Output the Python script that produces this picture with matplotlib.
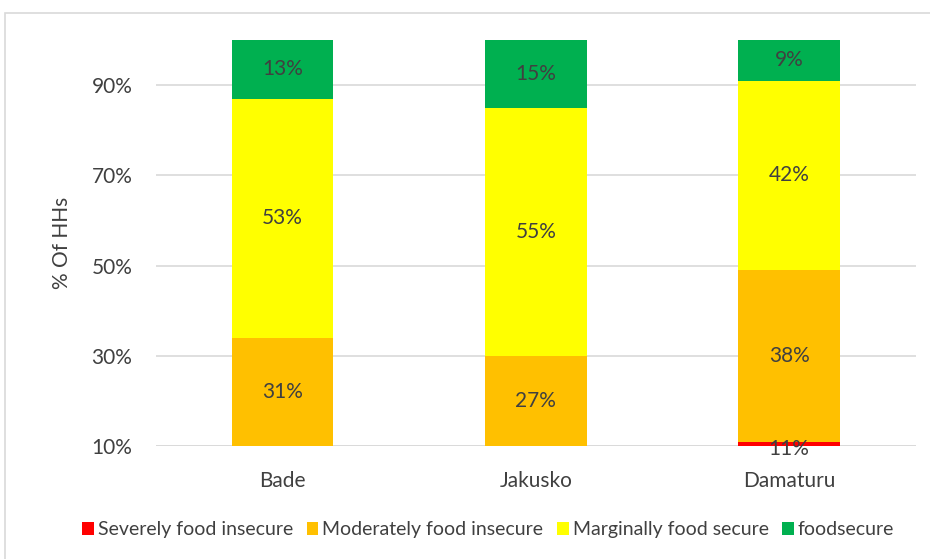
import matplotlib.pyplot as plt
from matplotlib.patches import Rectangle

# data
districts = ["Bade", "Jakusko", "Damaturu"]
severe = [3, 3, 11]
moderate = [31, 27, 38]
marginal = [53, 55, 42]
secure = [13, 15, 9]

series_names = ["Severely food insecure", "Moderately food insecure",
                "Marginally food secure", "foodsecure"]
colores = ["#FF0000", "#FFC000", "#FFFF00", "#00B050"]
yticks = [10, 30, 50, 70, 90]

txt = "#404040"
plt.rcParams['font.family'] = ['Lato', 'DejaVu Sans']

fig = plt.figure(figsize=(9.3, 5.59), dpi=100)
ax = fig.add_axes([0.1677, 0.2021, 0.817, 0.7263])

# chart border
fig.patches.append(Rectangle((5 / 930, -0.1), 1.2, 1 - 13 / 559 + 0.1,
                             transform=fig.transFigure, fill=False,
                             edgecolor="#D9D9D9", linewidth=1.2))

ymin, ymax = 10, 100
x = range(len(districts))
base = [0, 0, 0]
for serie, nome, cor in zip([severe, moderate, marginal, secure], series_names, colores):
    ax.bar(x, serie, bottom=base, width=0.4, color=cor, label=nome, zorder=2)
    for i in x:
        lo = max(base[i], ymin)
        hi = min(base[i] + serie[i], ymax)
        if hi > lo:
            if hi - lo < 3:
                ax.text(i, lo - 0.6, f"{serie[i]}%", ha="center", va="center",
                        fontsize=15, color=txt, clip_on=False, zorder=3)
            else:
                ax.text(i, (lo + hi) / 2, f"{serie[i]}%", ha="center", va="center",
                        fontsize=15, color=txt, zorder=3)
    base = [b + s for b, s in zip(base, serie)]

ax.set_ylim(ymin, ymax)
ax.set_xlim(-0.5, 2.5)
ax.set_yticks(yticks)
ax.set_yticklabels([f"{t}%" for t in yticks])
ax.set_xticks(list(x))
ax.set_xticklabels(districts)
ax.yaxis.grid(True, color="#D9D9D9", linewidth=1.2, zorder=0)
ax.set_axisbelow(True)
for s in ax.spines.values():
    s.set_visible(False)
ax.axhline(ymin, color="#D9D9D9", linewidth=1.2, zorder=1)
ax.tick_params(axis="y", length=0, pad=17, labelsize=15, labelcolor=txt)
ax.tick_params(axis="x", length=0, pad=18, labelsize=15, labelcolor=txt)
ax.set_ylabel("% Of HHs", fontsize=15, color=txt, labelpad=14)

# Legenda
fig.legend(loc="center", bbox_to_anchor=(0.525, 0.052), ncol=4, frameon=False,
           fontsize=14, labelcolor=txt, handlelength=0.6, handleheight=0.7,
           handletextpad=0.2, columnspacing=0.7)

fig.savefig("out.png", dpi=100)
